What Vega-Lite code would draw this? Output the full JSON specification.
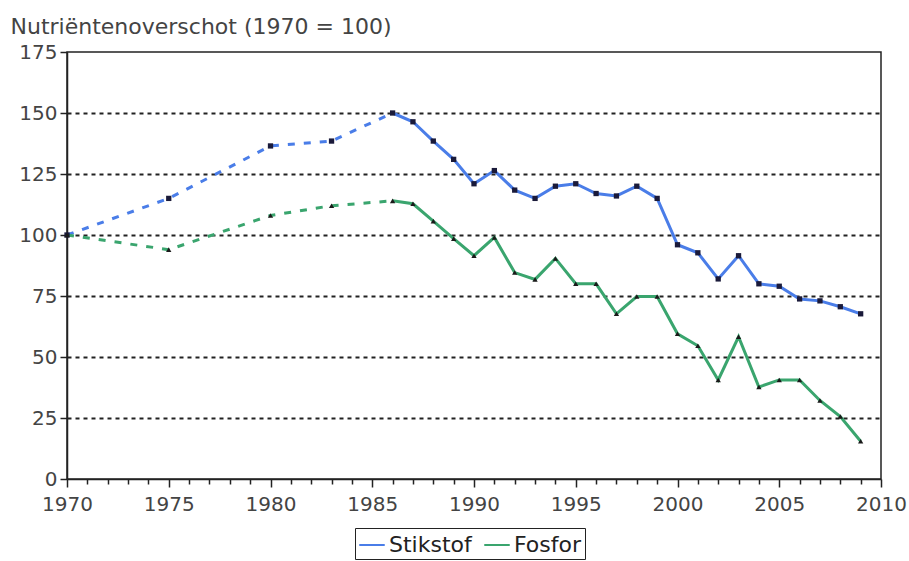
{
  "$schema": "https://vega.github.io/schema/vega-lite/v6.json",
  "width": 814,
  "height": 427,
  "autosize": {"type": "none"},
  "padding": {"left": 67, "top": 52, "right": 28, "bottom": 82},
  "background": "white",
  "config": {"view": {"stroke": "#222", "strokeWidth": 1.5}, "font": "DejaVu Sans"},
  "data": {"values": [
    {"series": "Stikstof", "year": 1970, "value": 100},
    {"series": "Stikstof", "year": 1975, "value": 115},
    {"series": "Stikstof", "year": 1980, "value": 136.5},
    {"series": "Stikstof", "year": 1983, "value": 138.5},
    {"series": "Stikstof", "year": 1986, "value": 150},
    {"series": "Stikstof", "year": 1987, "value": 146.4},
    {"series": "Stikstof", "year": 1988, "value": 138.5},
    {"series": "Stikstof", "year": 1989, "value": 131},
    {"series": "Stikstof", "year": 1990, "value": 121},
    {"series": "Stikstof", "year": 1991, "value": 126.4},
    {"series": "Stikstof", "year": 1992, "value": 118.4},
    {"series": "Stikstof", "year": 1993, "value": 115},
    {"series": "Stikstof", "year": 1994, "value": 120},
    {"series": "Stikstof", "year": 1995, "value": 121},
    {"series": "Stikstof", "year": 1996, "value": 117},
    {"series": "Stikstof", "year": 1997, "value": 116},
    {"series": "Stikstof", "year": 1998, "value": 120},
    {"series": "Stikstof", "year": 1999, "value": 115},
    {"series": "Stikstof", "year": 2000, "value": 96},
    {"series": "Stikstof", "year": 2001, "value": 92.7},
    {"series": "Stikstof", "year": 2002, "value": 82},
    {"series": "Stikstof", "year": 2003, "value": 91.5},
    {"series": "Stikstof", "year": 2004, "value": 80},
    {"series": "Stikstof", "year": 2005, "value": 79},
    {"series": "Stikstof", "year": 2006, "value": 73.8},
    {"series": "Stikstof", "year": 2007, "value": 73},
    {"series": "Stikstof", "year": 2008, "value": 70.6},
    {"series": "Stikstof", "year": 2009, "value": 67.7},
    {"series": "Fosfor", "year": 1970, "value": 100},
    {"series": "Fosfor", "year": 1975, "value": 94},
    {"series": "Fosfor", "year": 1980, "value": 108},
    {"series": "Fosfor", "year": 1983, "value": 112},
    {"series": "Fosfor", "year": 1986, "value": 114},
    {"series": "Fosfor", "year": 1987, "value": 112.8},
    {"series": "Fosfor", "year": 1988, "value": 105.7},
    {"series": "Fosfor", "year": 1989, "value": 98.5},
    {"series": "Fosfor", "year": 1990, "value": 91.5},
    {"series": "Fosfor", "year": 1991, "value": 99},
    {"series": "Fosfor", "year": 1992, "value": 84.6},
    {"series": "Fosfor", "year": 1993, "value": 81.8},
    {"series": "Fosfor", "year": 1994, "value": 90.4},
    {"series": "Fosfor", "year": 1995, "value": 80},
    {"series": "Fosfor", "year": 1996, "value": 80},
    {"series": "Fosfor", "year": 1997, "value": 67.7},
    {"series": "Fosfor", "year": 1998, "value": 74.8},
    {"series": "Fosfor", "year": 1999, "value": 74.8},
    {"series": "Fosfor", "year": 2000, "value": 59.5},
    {"series": "Fosfor", "year": 2001, "value": 54.6},
    {"series": "Fosfor", "year": 2002, "value": 40.6},
    {"series": "Fosfor", "year": 2003, "value": 58.3},
    {"series": "Fosfor", "year": 2004, "value": 37.7},
    {"series": "Fosfor", "year": 2005, "value": 40.6},
    {"series": "Fosfor", "year": 2006, "value": 40.6},
    {"series": "Fosfor", "year": 2007, "value": 32.2},
    {"series": "Fosfor", "year": 2008, "value": 25.6},
    {"series": "Fosfor", "year": 2009, "value": 15.5}
  ]},
  "encoding": {
    "x": {
      "field": "year", "type": "quantitative",
      "scale": {"domain": [1970, 2010], "nice": false, "zero": false},
      "axis": {
        "title": null, "grid": false,
        "values": [1970,1971,1972,1973,1974,1975,1976,1977,1978,1979,1980,1981,1982,1983,1984,1985,1986,1987,1988,1989,1990,1991,1992,1993,1994,1995,1996,1997,1998,1999,2000,2001,2002,2003,2004,2005,2006,2007,2008,2009,2010],
        "format": "d",
        "labelExpr": "datum.value % 5 === 0 ? datum.label : ''",
        "labelFlush": false, "labelOverlap": false,
        "tickSize": {"condition": {"test": "datum.value % 5 === 0", "value": 8}, "value": 5},
        "tickColor": "#222", "tickWidth": 1.5,
        "domainColor": "#222", "domainWidth": 1.5,
        "labelFontSize": 20, "labelColor": "#444", "labelPadding": 7
      }
    },
    "y": {
      "field": "value", "type": "quantitative",
      "scale": {"domain": [0, 175], "nice": false},
      "axis": {
        "values": [0, 25, 50, 75, 100, 125, 150, 175],
        "grid": true, "gridDash": [4, 4], "gridColor": "#222", "gridWidth": 2,
        "gridOpacity": {"condition": {"test": "datum.value === 175 || datum.value === 0", "value": 0}, "value": 1},
        "tickSize": 7, "tickColor": "#222", "tickWidth": 1.5,
        "domainColor": "#222", "domainWidth": 1.5,
        "labelFontSize": 20, "labelColor": "#444", "labelPadding": 3,
        "title": "Nutriëntenoverschot (1970 = 100)",
        "titleAngle": 0, "titleAlign": "left", "titleBaseline": "alphabetic",
        "titleX": -57, "titleY": -19,
        "titleFontSize": 22, "titleFontWeight": "normal", "titleColor": "#444"
      }
    },
    "color": {
      "field": "series", "type": "nominal",
      "scale": {"domain": ["Stikstof", "Fosfor"], "range": ["#4a7de8", "#3aa56e"]},
      "legend": {
        "title": null, "orient": "none", "legendX": 288, "legendY": 476,
        "direction": "horizontal", "strokeColor": "#222", "padding": 3,
        "symbolType": "stroke", "symbolSize": 650, "symbolStrokeWidth": 2, "symbolDash": [],
        "labelFontSize": 22, "labelColor": "#222", "columnPadding": 8, "labelOffset": 3
      }
    }
  },
  "layer": [
    {
      "transform": [{"filter": "datum.year <= 1986"}],
      "mark": {"type": "line", "strokeDash": [7, 9], "strokeWidth": 3}
    },
    {
      "transform": [{"filter": "datum.year >= 1986"}],
      "mark": {"type": "line", "strokeWidth": 3}
    },
    {
      "transform": [{"filter": "datum.series === 'Stikstof'"}],
      "mark": {"type": "point", "filled": true, "size": 28, "opacity": 1, "shape": "square"},
      "encoding": {"color": {"value": "#1a1a3a"}}
    },
    {
      "transform": [{"filter": "datum.series === 'Fosfor'"}],
      "mark": {"type": "point", "filled": true, "size": 28, "opacity": 1, "shape": "triangle-up"},
      "encoding": {"color": {"value": "#1a1a1a"}}
    }
  ]
}
